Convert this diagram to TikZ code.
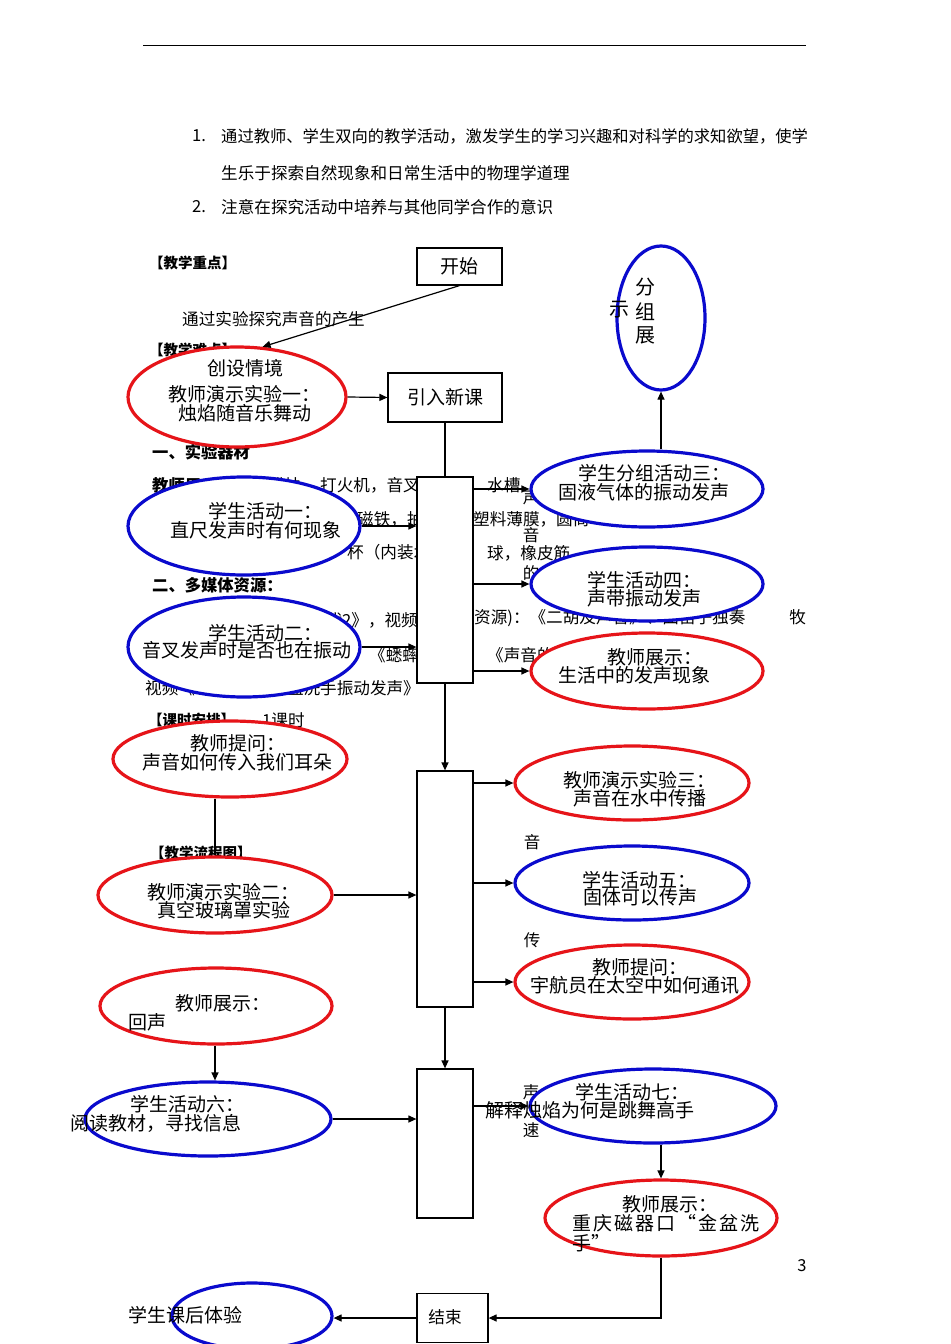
\documentclass[tikz,border=0pt]{standalone}
\usepackage{fontspec}
\setmainfont{Noto Sans CJK SC}
\usetikzlibrary{arrows.meta,shapes.geometric,calc}
\definecolor{ered}{RGB}{230,20,25}
\definecolor{eblue}{RGB}{10,10,205}
\pgfdeclarelayer{bg}
\pgfsetlayers{bg,main}
\begin{document}
\begin{tikzpicture}[x=1bp,y=-1bp,
 bodytxt/.style={font=\fontsize{16.6bp}{18bp}\selectfont,inner sep=0pt,anchor=west},
 vtxt/.style={font=\fontsize{16.5bp}{18bp}\selectfont,inner sep=0pt},
 headtxt/.style={font=\fontsize{14.5bp}{16bp}\selectfont\bfseries,inner sep=0pt,anchor=west},
 head2txt/.style={font=\fontsize{16.3bp}{18bp}\selectfont\bfseries,inner sep=0pt,anchor=west},
 etext/.style={font=\fontsize{19bp}{20bp}\selectfont,inner sep=0pt,anchor=west},
 bigtxt/.style={font=\fontsize{20bp}{21bp}\selectfont,inner sep=0pt,anchor=center},
 rbox/.style={draw,line width=1.2bp,fill=white,inner sep=0pt,rectangle,font=\fontsize{19bp}{20bp}\selectfont},
 ell/.style={ellipse,line width=3.2bp,fill=white,inner sep=0pt},
 redell/.style={ell,draw=ered},
 blueell/.style={ell,draw=eblue},
 conn/.style={line width=1.2bp,-{Triangle[length=8bp,width=7bp]}},
 lineonly/.style={line width=1.2bp}]
\useasboundingbox (0,0) rectangle (950,1344);
\begin{pgfonlayer}{bg}
\fill[white] (0,0) rectangle (950,1344);
\draw[line width=1bp] (143,46) -- (806,46);
\node[bodytxt] (n1) at (192,136) {1.};
\node[bodytxt,font=\fontsize{16.3bp}{18bp}\selectfont] (l1) at (221,136) {通过教师、学生双向的教学活动，激发学生的学习兴趣和对科学的求知欲望，使学};
\node[bodytxt] (l2) at (221,173) {生乐于探索自然现象和日常生活中的物理学道理};
\node[bodytxt] (n2) at (192,207) {2.};
\node[bodytxt] (l3) at (221,207) {注意在探究活动中培养与其他同学合作的意识};
\node[headtxt] (h1) at (149,263) {【教学重点】};
\node[bodytxt] (l4) at (182,319) {通过实验探究声音的产生};
\node[headtxt] (h2) at (149,350) {【教学难点】};
\node[head2txt] (h3) at (152,452) {一、实验器材};
\node[head2txt] (h4) at (152,485) {教师用：};
\node[bodytxt,anchor=east] (m1) at (318,485) {蜡烛，};
\node[bodytxt] (m2) at (320,485) {打火机，音叉，};
\node[bodytxt] (m3) at (487,485) {水槽};
\node[bodytxt] (m4) at (357,519) {磁铁，抽气机};
\node[bodytxt] (m5) at (473,519) {塑料薄膜，圆筒};
\node[bodytxt] (m6) at (347,552) {杯（内装水};
\node[bodytxt] (m7) at (487,553) {球，橡皮筋};
\node[head2txt] (h5) at (152,585) {二、多媒体资源：};
\node[bodytxt,anchor=east] (m8) at (418,620) {代2》，视频};
\node[bodytxt] (m9) at (474,618) {资源)：《二胡及声音》、曲笛子独奏\hspace{44bp}牧};
\node[bodytxt] (m10) at (369,655) {《蟋蟀};
\node[bodytxt] (m11) at (487,655) {《声音的};
\node[bodytxt] (m12) at (145,688) {视频《};
\node[bodytxt,anchor=east] (m13) at (420,688) {金盆洗手振动发声》};
\node[headtxt] (h6) at (148,720) {【课时安排】};
\node[bodytxt] (m14) at (262,720) {1课时};
\node[headtxt] (h7) at (150,853) {【教学流程图】};
\node[vtxt] (v1) at (531,497) {声};
\node[vtxt] (v2) at (531,535) {音};
\node[vtxt] (v3) at (531,573) {的};
\node[vtxt] (v4) at (532,842) {音};
\node[vtxt] (v5) at (532,940) {传};
\node[vtxt] (v6) at (531,1092) {声};
\node[vtxt] (v7) at (531,1130) {速};
\node[vtxt] (pg) at (802,1266) {3};
\end{pgfonlayer}

% boxes
\node[rbox,minimum width=85bp,minimum height=37bp] (start) at (459.5,266.5) {开始};
\node[rbox,minimum width=114bp,minimum height=49bp] (intro) at (445,397.5) {引入新课};
\node[rbox,minimum width=56bp,minimum height=206bp] (b1) at (445,580) {};
\node[rbox,minimum width=56bp,minimum height=236bp] (b2) at (445,889) {};
\node[rbox,minimum width=56bp,minimum height=149bp] (b3) at (445,1143.5) {};
\node[rbox,minimum width=71bp,minimum height=49bp] (endb) at (452.5,1318) {};

% ellipses
\node[redell,minimum width=218bp,minimum height=100bp] (e1) at (237,397) {};
\node[blueell,minimum width=232bp,minimum height=98bp] (e2) at (244,526) {};
\node[blueell,minimum width=232bp,minimum height=100bp] (e3) at (244,647) {};
\node[blueell,minimum width=232bp,minimum height=76bp] (e4) at (647,489) {};
\node[blueell,minimum width=232bp,minimum height=74bp] (e5) at (647,584) {};
\node[redell,minimum width=232bp,minimum height=76bp] (e6) at (647,671) {};
\node[blueell,minimum width=88bp,minimum height=144bp] (e7) at (661,318) {};
\node[redell,minimum width=234bp,minimum height=76bp] (e8) at (230,759) {};
\node[redell,minimum width=234bp,minimum height=76bp] (e9) at (215,895) {};
\node[redell,minimum width=234bp,minimum height=74bp] (e10) at (632,783) {};
\node[blueell,minimum width=234bp,minimum height=74bp] (e11) at (632,883) {};
\node[redell,minimum width=234bp,minimum height=74bp] (e12) at (632,982) {};
\node[redell,minimum width=232bp,minimum height=76bp] (e13) at (216,1006) {};
\node[blueell,minimum width=246bp,minimum height=74bp] (e14) at (208,1119) {};
\node[blueell,minimum width=246bp,minimum height=74bp] (e15) at (653,1106) {};
\node[redell,minimum width=232bp,minimum height=76bp] (e16) at (661,1218) {};
\node[blueell,minimum width=160bp,minimum height=66bp] (e17) at (252,1316) {};

% connectors
\draw[conn] (start.south) -- (e1.63);
\draw[conn] (e1.east) -- (intro.west);
\draw[lineonly] (intro.south) -- (b1.north);
\draw[conn] (e2.east) -- (e2.east -| b1.west);
\draw[conn] (e3.east) -- (e3.east -| b1.west);
\draw[conn] (b1.east |- e4.west) -- (e4.west);
\draw[conn] (b1.east |- e5.west) -- (e5.west);
\draw[conn] (b1.east |- e6.west) -- (e6.west);
\draw[conn] (e7.south |- e4.north) -- (e7.south);
\draw[conn] (b1.south) -- (b2.north);
\draw[lineonly] (e9.north |- e8.south) -- (e9.north);
\draw[conn] (e9.east) -- (e9.east -| b2.west);
\draw[conn] (b2.east |- e10.west) -- (e10.west);
\draw[conn] (b2.east |- e11.west) -- (e11.west);
\draw[conn] (b2.east |- e12.west) -- (e12.west);
\draw[conn] (b2.south) -- (b3.north);
\draw[conn] (e13.south -| 215,0) -- (e14.north -| 215,0);
\draw[conn] (e14.east) -- (e14.east -| b3.west);
\draw[conn] (b3.east |- e15.west) -- (e15.west);
\draw[conn] (e16.north |- e15.south) -- (e16.north);
\draw[conn] (e16.south) |- (endb.east);
\draw[conn] (endb.west) -- (endb.west -| e17.east);

% ellipse texts
\node[etext] (t1a) at (207,368) {创设情境};
\node[etext] (t1b) at (168,394) {教师演示实验一：};
\node[etext] (t1c) at (178,413) {烛焰随音乐舞动};
\node[etext] (t2a) at (208,511) {学生活动一：};
\node[etext] (t2b) at (170,530) {直尺发声时有何现象};
\node[etext] (t3a) at (208,633) {学生活动二：};
\node[etext] (t3b) at (142,650) {音叉发声时是否也在振动};
\node[etext] (t4a) at (578,473) {学生分组活动三：};
\node[etext] (t4b) at (558,492) {固液气体的振动发声};
\node[etext] (t5a) at (587,580) {学生活动四：};
\node[etext] (t5b) at (587,598) {声带振动发声};
\node[etext] (t6a) at (607,657) {教师展示：};
\node[etext] (t6b) at (558,675) {生活中的发声现象};
\node[bigtxt] (t7a) at (645,287) {分};
\node[bigtxt] (t7b) at (645,312) {组};
\node[bigtxt] (t7c) at (645,335) {展};
\node[bigtxt] (t7d) at (619,310) {示};
\node[etext] (t8a) at (190,743) {教师提问：};
\node[etext] (t8b) at (142,762) {声音如何传入我们耳朵};
\node[etext] (t9a) at (147,892) {教师演示实验二：};
\node[etext] (t9b) at (157,910) {真空玻璃罩实验};
\node[etext] (t10a) at (563,780) {教师演示实验三：};
\node[etext] (t10b) at (573,798) {声音在水中传播};
\node[etext] (t11a) at (582,880) {学生活动五：};
\node[etext] (t11b) at (583,897) {固体可以传声};
\node[etext] (t12a) at (592,967) {教师提问：};
\node[etext] (t12b) at (530,985) {宇航员在太空中如何通讯};
\node[etext] (t13a) at (175,1003) {教师展示：};
\node[etext] (t13b) at (128,1022) {回声};
\node[etext] (t14a) at (130,1104) {学生活动六：};
\node[etext] (t14b) at (70,1123) {阅读教材，寻找信息};
\node[etext] (t15a) at (575,1092) {学生活动七：};
\node[etext] (t15b) at (485,1110) {解释烛焰为何是跳舞高手};
\node[etext] (t16a) at (622,1204) {教师展示：};
\node[etext,font=\fontsize{19bp}{20bp}\selectfont\addfontfeatures{LetterSpace=11}] (t16b) at (572,1223) {重庆磁器口“金盆洗};
\node[etext] (t16c) at (572,1243) {手”};
\node[etext] (t17) at (128,1315) {学生课后体验};
\node[bodytxt,anchor=center] (tend) at (445,1317) {结束};
\end{tikzpicture}
\end{document}
